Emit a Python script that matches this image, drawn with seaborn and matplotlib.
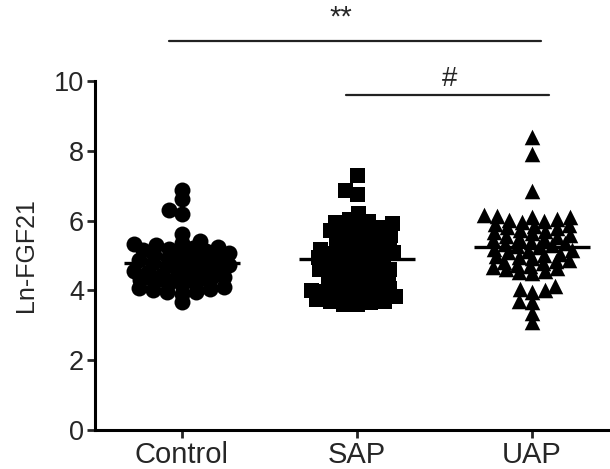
import numpy as np
import pandas as pd
import matplotlib
matplotlib.use("Agg")
import matplotlib.pyplot as plt
import seaborn as sns

categories = ["Control", "SAP", "UAP"]
markers = ["o", "s", "^"]

control = [6.89, 6.63, 6.31, 6.20, 5.63,
           5.42, 5.36, 5.33, 5.31, 5.25, 5.22, 5.20, 5.15, 5.12, 5.08, 5.06, 5.01,
           4.98, 4.94, 4.92, 4.87, 4.85, 4.80, 4.78, 4.73, 4.71, 4.66, 4.64, 4.59,
           4.57, 4.52, 4.50, 4.45, 4.43, 4.38, 4.36, 4.31, 4.29, 4.24, 4.22, 4.17,
           4.15, 4.10, 4.08, 4.03, 4.01, 3.96, 3.94, 3.90,
           3.66]
sap = [7.31, 6.89, 6.77,
       6.22, 6.05, 6.00, 5.96, 5.92, 5.87, 5.83, 5.78, 5.74, 5.69, 5.65, 5.60,
       5.56, 5.51, 5.47, 5.42, 5.38, 5.33, 5.29, 5.24, 5.20, 5.15, 5.11, 5.10,
       5.06, 5.02, 4.97, 4.95, 4.93, 4.88, 4.84, 4.79, 4.75, 4.70, 4.66, 4.61,
       4.60, 4.57, 4.52, 4.48, 4.43, 4.39, 4.34, 4.30, 4.25, 4.21, 4.16, 4.12,
       4.07, 4.03, 4.00, 3.98, 3.94, 3.90, 3.89, 3.85, 3.80, 3.76, 3.71, 3.70,
       3.67, 3.62, 3.60]
uap = [8.40, 7.90, 6.86,
       6.15, 6.12, 6.10, 6.09, 6.05, 6.02, 5.98, 5.95, 5.91, 5.88, 5.85, 5.81,
       5.78, 5.74, 5.71, 5.67, 5.64, 5.60, 5.57, 5.54, 5.50, 5.47, 5.43, 5.40,
       5.36, 5.33, 5.29, 5.26, 5.23, 5.19, 5.16, 5.12, 5.09, 5.05, 5.02, 4.98,
       4.95, 4.92, 4.88, 4.85, 4.81, 4.78, 4.74, 4.71, 4.67, 4.64, 4.60, 4.57,
       4.53, 4.50,
       4.14, 4.05, 4.00, 3.95, 3.70, 3.66, 3.34, 3.09]
groups = [control, sap, uap]

yticks = [0, 2, 4, 6, 8, 10]
ylabel = "Ln-FGF21"
sig_labels = ["**", "#"]

sns.set_style("ticks")
plt.rcParams["font.family"] = ["Liberation Sans", "DejaVu Sans"]

fig = plt.figure(figsize=(6.1, 4.69), dpi=100)
ax = fig.add_axes([95 / 610, 39 / 469, 515 / 610, 349 / 469])

layout_sizes = [9.9, 9.5, 9.1]
final_sizes = [11.5, 10.8, 11.2]
colls = []
for cat, vals, mk, ls in zip(categories, groups, markers, layout_sizes):
    df = pd.DataFrame({"group": [cat] * len(vals), "value": vals})
    n_before = len(ax.collections)
    sns.swarmplot(data=df, x="group", y="value", order=categories, color="black",
                  marker=mk, size=ls, linewidth=0, ax=ax, warn_thresh=1.0)
    new = ax.collections[n_before:]
    colls.append(max(new, key=lambda c: len(c.get_offsets())))

fig.canvas.draw()
for coll, fs in zip(colls, final_sizes):
    if "draw" in coll.__dict__:
        del coll.draw
    coll.set_sizes([fs ** 2])

for i, vals in enumerate(groups):
    m = np.mean(vals)
    ax.hlines(m, i - 0.33, i + 0.33, color="black", lw=2.4, zorder=1)

ax.set_xlim(-0.497, 2.446)
ax.set_ylim(0, 10)
ax.set_yticks(yticks)
ax.set_ylabel(ylabel, fontsize=18, labelpad=11)
ax.set_xlabel("")
ax.tick_params(axis="y", labelsize=19.5, width=2, length=6, direction="out", pad=2)
ax.tick_params(axis="x", labelsize=21, width=2, length=6, direction="out", pad=2)
for s in ["top", "right"]:
    ax.spines[s].set_visible(False)
for s in ["left", "bottom"]:
    ax.spines[s].set_linewidth(2.2)
    ax.spines[s].set_color("black")

# significance bars
ax.plot([-0.074, 2.05], [11.15, 11.15], color="#222222", lw=1.6, clip_on=False)
ax.text(0.91, 11.82, sig_labels[0], ha="center", va="center", fontsize=21, clip_on=False)
ax.plot([0.94, 2.10], [9.6, 9.6], color="#222222", lw=1.6, clip_on=False)
ax.text(1.53, 10.05, sig_labels[1], ha="center", va="center", fontsize=20, clip_on=False)

fig.savefig("out.png", dpi=100)
